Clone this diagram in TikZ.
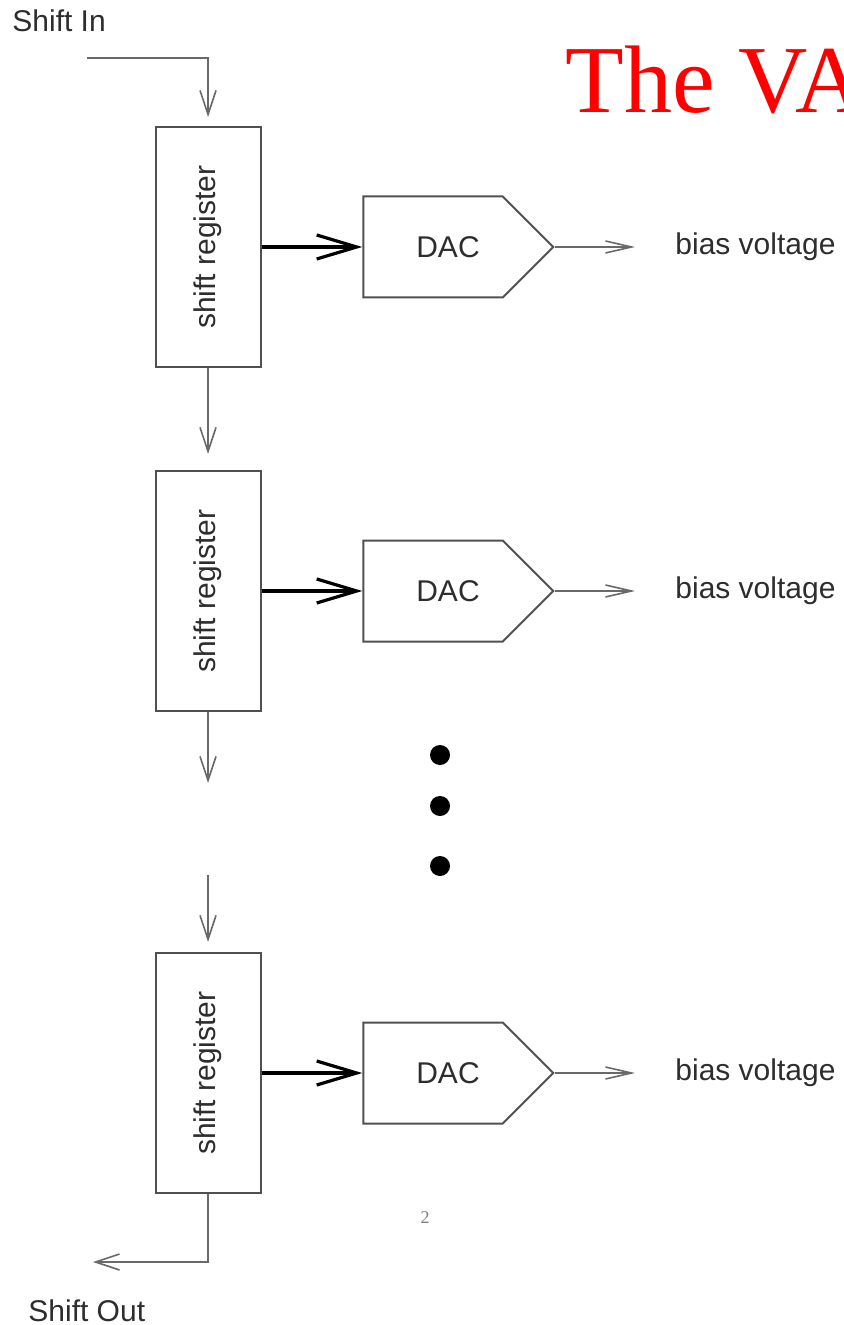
\documentclass[tikz,border=0pt]{standalone}
\usepackage{fontspec}
\setmainfont{Liberation Sans}
\newfontfamily\titlefont{Liberation Serif}
\usetikzlibrary{arrows.meta,shapes.symbols,calc}
\definecolor{wiregray}{RGB}{105,105,105}
\definecolor{boxgray}{RGB}{80,80,80}
\definecolor{labelgray}{RGB}{45,45,45}

\begin{document}
\begin{tikzpicture}[x=0.5pt,y=-0.5pt,
    every node/.style={font=\fontsize{15}{18}\selectfont, text=labelgray},
    regbox/.style={draw=boxgray, line width=1pt, minimum width=52.5pt, minimum height=120pt, inner sep=0pt},
    dacbox/.style={draw=boxgray, line width=1pt, shape=signal, signal to=east, minimum width=95pt, minimum height=50.5pt, inner sep=0pt},
    thinarrow/.style={draw=wiregray, line width=0.8pt, -{Straight Barb[length=12pt,width=8pt]}},
    outarrow/.style={draw=wiregray, line width=0.8pt, -{Straight Barb[length=13pt,width=6pt]}},
    busarrow/.style={draw=black, line width=1.6pt, -{Straight Barb[length=20pt,width=12pt]}}]
    \useasboundingbox (0,0) rectangle (843,1325);
    \clip (0,0) rectangle (843,1325);

    % Title
    \node[anchor=base west, inner sep=0pt, text=red, font=\titlefont\fontsize{48}{54}\selectfont] (title) at (565,113) {The VA};

    % Shift In
    \node[anchor=west, inner sep=0pt] (shiftin) at (12,21) {Shift In};
    \coordinate (sin) at (87,58);

    % Registers
    \node[regbox] (reg1) at (208,247) {\rotatebox{90}{shift register}};
    \node[regbox] (reg2) at (208,591) {\rotatebox{90}{shift register}};
    \node[regbox] (reg3) at (208,1073) {\rotatebox{90}{shift register}};

    % DACs
    \node[dacbox] (dac1) at (433,247) {\hspace*{15pt}DAC};
    \node[dacbox] (dac2) at (433,591) {\hspace*{15pt}DAC};
    \node[dacbox] (dac3) at (433,1073) {\hspace*{15pt}DAC};

    % Outputs
    \node[anchor=west, inner sep=0pt] (bias1) at (675,247) {bias voltage};
    \node[anchor=west, inner sep=0pt] (bias2) at (675,591) {bias voltage};
    \node[anchor=west, inner sep=0pt] (bias3) at (675,1073) {bias voltage};
    \coordinate (out1) at (635,247);
    \coordinate (out2) at (635,591);
    \coordinate (out3) at (635,1073);

    % Shift chain
    \draw[thinarrow, shorten >=4.5pt] (sin) -| (reg1.north);
    \draw[thinarrow, shorten >=8pt] (reg1.south) -- (reg2.north);
    \coordinate (gap1) at (208,783);
    \coordinate (gap2) at (208,875);
    \draw[thinarrow] (reg2.south) -- (gap1);
    \draw[thinarrow, shorten >=5pt] (gap2) -- (reg3.north);
    \coordinate (sout) at (93,1262);
    \draw[thinarrow] (reg3.south) |- (sout);

    % Register to DAC, DAC to output
    \foreach \i in {1,2,3} {
        \draw[busarrow] (reg\i.east) -- (dac\i.west);
        \draw[outarrow] (dac\i.east) -- (out\i);
    }

    % Dots
    \fill (440,755) circle (5pt);
    \fill (440,806) circle (5pt);
    \fill (440,866) circle (5pt);

    % Shift Out
    \node[anchor=west, inner sep=0pt] (shiftout) at (28,1311) {Shift Out};
    \node[font=\titlefont\fontsize{9}{10}\selectfont, text=gray] (pagenum) at (425,1218) {2};
\end{tikzpicture}
\end{document}
